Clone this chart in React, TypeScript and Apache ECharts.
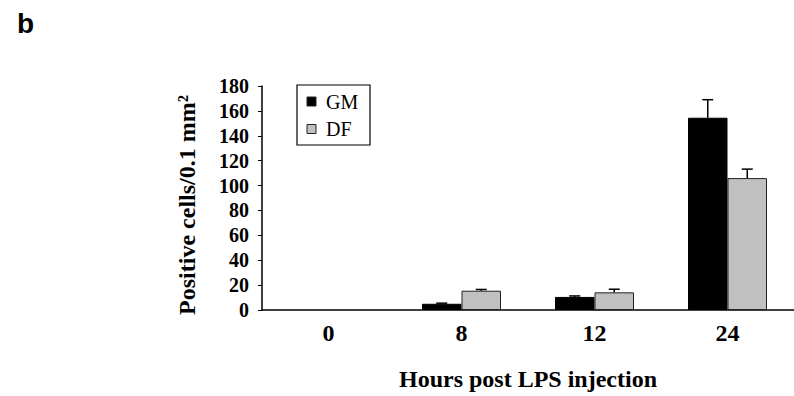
import React, { useEffect, useRef } from "react";
import * as echarts from "echarts";

const categories = ["0", "8", "12", "24"];
const seriesNames = ["GM", "DF"];
const gmValues = [0, 5, 10.5, 154.5];
const gmErrors = [0, 0.5, 0.8, 14.5];
const dfValues = [0, 15.5, 14.2, 106];
const dfErrors = [0, 1, 2.5, 7.2];
const yTicks = { min: 0, max: 180, interval: 20 };

const SERIF = "Liberation Serif";
const BAR_W = 39.5;

function errorSeries(values: number[], errors: number[], offset: number) {
  return {
    type: "custom",
    silent: true,
    z: 5,
    data: values.map((v, i) => [i, v, v + errors[i], errors[i]]),
    renderItem: (params: any, api: any) => {
      const err = api.value(3);
      if (!err) return { type: "group", children: [] };
      const base = api.coord([api.value(0), api.value(1)]);
      const top = api.coord([api.value(0), api.value(2)]);
      const x = base[0] + offset;
      const style = { stroke: "#000", lineWidth: 1.5 };
      return {
        type: "group",
        children: [
          { type: "line", shape: { x1: x, y1: base[1], x2: x, y2: top[1] }, style },
          { type: "line", shape: { x1: x - 5.5, y1: top[1], x2: x + 5.5, y2: top[1] }, style },
        ],
      };
    },
  };
}

function barData(values: number[]) {
  return values.map((v) => (v === 0 ? { value: v, itemStyle: { borderWidth: 0, opacity: 0 } } : v));
}

export default function App() {
  const ref = useRef<HTMLDivElement>(null);
  useEffect(() => {
    document.body.style.margin = "0";
    const chart = echarts.init(ref.current!, undefined, { renderer: "svg" });
    const colors = ["#000000", "#c0c0c0"];
    chart.setOption({
      animation: false,
      backgroundColor: "#ffffff",
      textStyle: { fontFamily: SERIF },
      grid: { left: 262, top: 86, width: 542, height: 228, containLabel: false },
      xAxis: {
        type: "category",
        data: categories,
        axisLine: { lineStyle: { color: "#000", width: 1.5 } },
        axisTick: { inside: true, length: 6, lineStyle: { color: "#555", width: 1 } },
        axisLabel: {
          margin: 11,
          fontFamily: SERIF,
          fontWeight: "bold",
          fontSize: 24,
          color: "#000",
        },
        name: "Hours post LPS injection",
        nameLocation: "middle",
        nameGap: 57,
        nameTextStyle: { fontFamily: SERIF, fontWeight: "bold", fontSize: 24, color: "#000" },
      },
      yAxis: {
        type: "value",
        min: yTicks.min,
        max: yTicks.max,
        interval: yTicks.interval,
        splitLine: { show: false },
        axisLine: { show: true, lineStyle: { color: "#000", width: 1.5 } },
        axisTick: { show: true, length: 4, lineStyle: { color: "#000", width: 1 } },
        axisLabel: {
          margin: 13,
          fontFamily: SERIF,
          fontWeight: "bold",
          fontSize: 20,
          color: "#000",
        },
        name: "Positive cells/0.1 mm²",
        nameLocation: "middle",
        nameGap: 63,
        nameTextStyle: {
          fontFamily: SERIF,
          fontWeight: "bold",
          fontSize: 24,
          color: "#000",
          padding: [0, 14, 0, 0],
        },
      },
      series: [
        {
          name: seriesNames[0],
          type: "bar",
          data: barData(gmValues),
          barWidth: BAR_W,
          barGap: "0%",
          itemStyle: { color: colors[0], borderColor: "#000", borderWidth: 1 },
        },
        {
          name: seriesNames[1],
          type: "bar",
          data: barData(dfValues),
          barWidth: BAR_W,
          barGap: "0%",
          itemStyle: { color: colors[1], borderColor: "#222", borderWidth: 1 },
        },
        errorSeries(gmValues, gmErrors, -BAR_W / 2),
        errorSeries(dfValues, dfErrors, BAR_W / 2),
      ],
      graphic: [
        {
          type: "text",
          left: 17,
          top: 9,
          style: { text: "b", font: 'bold 28px "Liberation Sans", Arial, sans-serif', fill: "#000" },
        },
        {
          type: "rect",
          shape: { x: 297, y: 85, width: 73, height: 60 },
          style: { fill: "#fff", stroke: "#000", lineWidth: 1.2 },
          z: 10,
        },
        ...seriesNames.flatMap((n, i) => [
          {
            type: "rect",
            shape: { x: 307, y: 97 + i * 27.5, width: 9, height: 9 },
            style: { fill: colors[i], stroke: "#222", lineWidth: 1 },
            z: 11,
          },
          {
            type: "text",
            x: 326,
            y: 101.5 + i * 27.5,
            style: {
              text: n,
              font: `20px "${SERIF}"`,
              fill: "#000",
              textVerticalAlign: "middle",
            },
            z: 11,
          },
        ]),
      ],
    });
    return () => chart.dispose();
  }, []);
  return (
    <div
      ref={ref}
      style={{ position: "fixed", left: 0, top: 0, width: 794, height: 396, background: "#fff" }}
    />
  );
}
